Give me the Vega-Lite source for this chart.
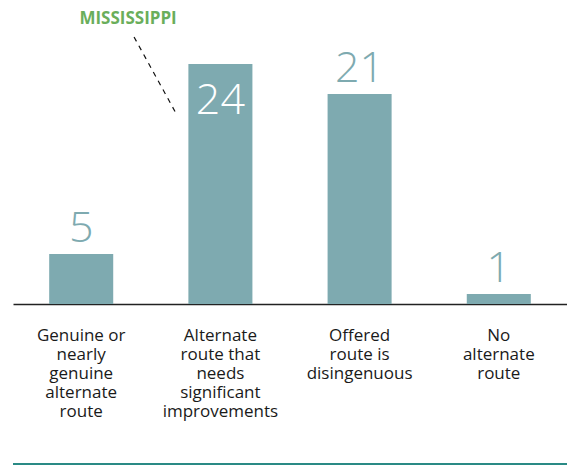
{
  "$schema": "https://vega.github.io/schema/vega-lite/v6.json",
  "width": 554,
  "height": 250,
  "autosize": {"type": "none"},
  "padding": {"left": 13, "top": 54, "right": 0, "bottom": 162},
  "config": {"view": {"stroke": null}, "font": "Open Sans"},
  "resolve": {"scale": {"x": "independent"}, "axis": {"x": "independent"}},
  "layer": [
    {
      "data": {"values": [
        {"cat": "Genuine or|nearly|genuine|alternate|route", "v": 5},
        {"cat": "Alternate|route that|needs|significant|improvements", "v": 24},
        {"cat": "Offered|route is|disingenuous", "v": 21},
        {"cat": "No|alternate|route", "v": 1}
      ]},
      "layer": [
        {
          "mark": {"type": "bar", "color": "#7eaab0"},
          "encoding": {
            "x": {"field": "cat", "type": "nominal", "sort": null,
              "scale": {"paddingInner": 0.54, "paddingOuter": 0.26, "align": 0.5},
              "axis": {"title": null, "ticks": false, "tickSize": 0, "labelAngle": 0,
                "labelExpr": "split(datum.label, '|')", "labelFont": "Open Sans", "labelFontSize": 17,
                "labelColor": "#1a1a1a", "labelLineHeight": 19, "labelBaseline": "alphabetic",
                "labelPadding": 36, "domainColor": "#222222", "domainWidth": 1.5, "labelLimit": 0}},
            "y": {"field": "v", "type": "quantitative", "scale": {"domain": [0, 25], "nice": false}, "axis": null}
          }
        },
        {
          "transform": [{"filter": "datum.v != 24"}],
          "mark": {"type": "text", "color": "#7eaab0", "fontSize": 43, "fontWeight": 300, "baseline": "alphabetic", "dy": -12},
          "encoding": {
            "x": {"field": "cat", "type": "nominal", "sort": null},
            "y": {"field": "v", "type": "quantitative"},
            "text": {"field": "v", "type": "quantitative"}
          }
        },
        {
          "transform": [{"filter": "datum.v == 24"}],
          "mark": {"type": "text", "color": "#ffffff", "fontSize": 43, "fontWeight": 300, "baseline": "alphabetic", "dy": 50},
          "encoding": {
            "x": {"field": "cat", "type": "nominal", "sort": null},
            "y": {"field": "v", "type": "quantitative"},
            "text": {"field": "v", "type": "quantitative"}
          }
        }
      ]
    },
    {
      "data": {"values": [{"pos": -16}]},
      "mark": {"type": "rule", "color": "#2a8a85", "strokeWidth": 2},
      "encoding": {"y": {"field": "pos", "type": "quantitative"}}
    },
    {
      "data": {"values": [{"x": 0.388, "y": 26.7, "x2": 0.696, "y2": 18.9, "label": "MISSISSIPPI", "lx": 0.345, "ly": 28.0}]},
      "layer": [
        {
          "mark": {"type": "rule", "color": "#111111", "strokeWidth": 1.2, "strokeDash": [5, 5]},
          "encoding": {
            "x": {"field": "x", "type": "quantitative", "scale": {"domain": [-0.481, 3.496], "nice": false, "zero": false}, "axis": null},
            "x2": {"field": "x2"},
            "y": {"field": "y", "type": "quantitative"},
            "y2": {"field": "y2"}
          }
        },
        {
          "mark": {"type": "text", "color": "#6aae5b", "fontSize": 17, "fontWeight": "bold", "baseline": "alphabetic"},
          "encoding": {
            "x": {"field": "lx", "type": "quantitative"},
            "y": {"field": "ly", "type": "quantitative"},
            "text": {"field": "label"}
          }
        }
      ]
    }
  ]
}
